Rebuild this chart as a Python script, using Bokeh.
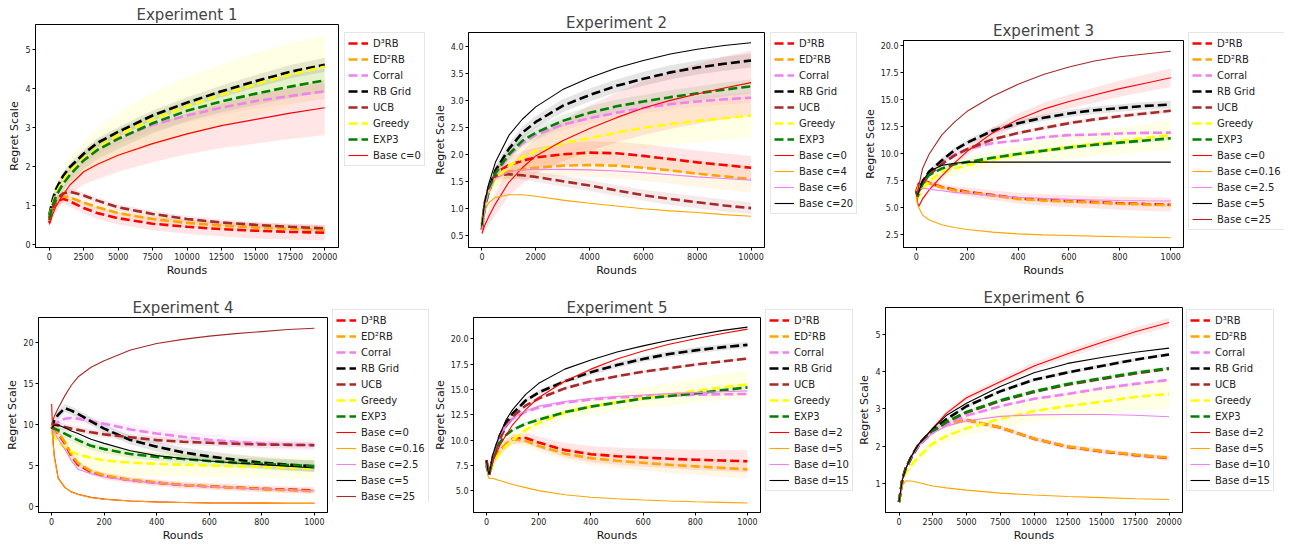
from bokeh.plotting import figure
from bokeh.models import Range1d, FixedTicker, Legend, LegendItem, PrintfTickFormatter
from bokeh.layouts import row, column
from bokeh.embed import file_html
from bokeh.resources import INLINE

# ---------------- data ----------------
ALG_LABELS = ["D³RB", "ED²RB", "Corral", "RB Grid", "UCB", "Greedy", "EXP3"]

# Experiment 1
E1_X = [0, 250, 500, 1000, 1500, 2500, 3500, 5000, 7500, 10000, 12500, 15000, 17500, 20000]
E1_D3RB = [0.55, 0.9, 1.08, 1.17, 1.1, 0.93, 0.8, 0.67, 0.53, 0.45, 0.39, 0.35, 0.32, 0.3]
E1_ED2RB = [0.6, 0.95, 1.12, 1.23, 1.2, 1.07, 0.95, 0.8, 0.65, 0.55, 0.48, 0.43, 0.4, 0.37]
E1_CORRAL = [0.68, 1.0, 1.25, 1.57, 1.8, 2.18, 2.45, 2.72, 3.06, 3.3, 3.5, 3.67, 3.8, 3.92]
E1_RBGRID = [0.75, 1.15, 1.42, 1.75, 1.98, 2.32, 2.6, 2.88, 3.3, 3.63, 3.92, 4.18, 4.42, 4.6]
E1_UCB = [0.62, 0.95, 1.15, 1.3, 1.35, 1.25, 1.12, 0.95, 0.78, 0.65, 0.56, 0.5, 0.45, 0.41]
E1_GREEDY = [0.7, 1.05, 1.32, 1.63, 1.87, 2.2, 2.47, 2.8, 3.2, 3.53, 3.83, 4.1, 4.35, 4.55]
E1_EXP3 = [0.68, 1.0, 1.25, 1.55, 1.78, 2.15, 2.42, 2.7, 3.1, 3.42, 3.66, 3.86, 4.04, 4.2]
E1_BASE_C0 = [0.51, 0.77, 0.98, 1.27, 1.52, 1.86, 2.05, 2.28, 2.58, 2.83, 3.04, 3.2, 3.36, 3.5]
E1_D3RB_SD = [0.05, 0.08, 0.1, 0.12, 0.13, 0.14, 0.15, 0.16, 0.17, 0.18, 0.19, 0.2, 0.2, 0.2]
E1_ED2RB_SD = [0.05, 0.06, 0.07, 0.08, 0.08, 0.08, 0.08, 0.08, 0.08, 0.09, 0.09, 0.1, 0.1, 0.1]
E1_CORRAL_SD = [0.05, 0.08, 0.1, 0.12, 0.12, 0.13, 0.14, 0.15, 0.16, 0.17, 0.18, 0.19, 0.2, 0.2]
E1_RBGRID_SD = [0.05, 0.08, 0.1, 0.1, 0.1, 0.11, 0.12, 0.12, 0.13, 0.14, 0.15, 0.16, 0.17, 0.18]
E1_UCB_SD = [0.05, 0.06, 0.07, 0.08, 0.08, 0.08, 0.08, 0.08, 0.08, 0.08, 0.08, 0.08, 0.08, 0.08]
E1_GREEDY_SD = [0.1, 0.2, 0.25, 0.3, 0.35, 0.42, 0.5, 0.58, 0.68, 0.75, 0.78, 0.8, 0.8, 0.8]
E1_EXP3_SD = [0.08, 0.12, 0.15, 0.18, 0.2, 0.22, 0.24, 0.25, 0.26, 0.27, 0.28, 0.29, 0.3, 0.3]
E1_BASE_C0_SD = [0.05, 0.1, 0.15, 0.2, 0.25, 0.32, 0.38, 0.42, 0.48, 0.52, 0.57, 0.62, 0.66, 0.7]
E1_XTICKS = [0, 2500, 5000, 7500, 10000, 12500, 15000, 17500, 20000]
E1_YTICKS = [0, 1, 2, 3, 4, 5]

# Experiment 2
E2_X = [0, 100, 250, 500, 1000, 1500, 2000, 3000, 4000, 5000, 6000, 7000, 8000, 9000, 10000]
E2_D3RB = [0.6, 1.05, 1.35, 1.65, 1.8, 1.88, 1.94, 2.0, 2.03, 2.02, 1.97, 1.91, 1.85, 1.8, 1.75]
E2_ED2RB = [0.6, 1.0, 1.3, 1.58, 1.68, 1.72, 1.75, 1.79, 1.8, 1.79, 1.75, 1.7, 1.64, 1.59, 1.54]
E2_CORRAL = [0.65, 1.0, 1.3, 1.62, 1.97, 2.2, 2.36, 2.55, 2.67, 2.77, 2.86, 2.93, 2.98, 3.02, 3.05]
E2_RBGRID = [0.7, 1.05, 1.35, 1.7, 2.1, 2.4, 2.6, 2.9, 3.1, 3.27, 3.4, 3.52, 3.61, 3.68, 3.74]
E2_UCB = [0.6, 1.1, 1.4, 1.6, 1.63, 1.61, 1.58, 1.5, 1.42, 1.33, 1.24, 1.17, 1.11, 1.05, 1.0]
E2_GREEDY = [0.7, 1.0, 1.3, 1.55, 1.78, 1.94, 2.06, 2.2, 2.3, 2.4, 2.49, 2.56, 2.62, 2.67, 2.72]
E2_EXP3 = [0.65, 1.0, 1.3, 1.65, 2.0, 2.25, 2.4, 2.62, 2.77, 2.89, 2.98, 3.06, 3.13, 3.2, 3.26]
E2_BASE_C0 = [0.53, 0.68, 0.84, 1.08, 1.48, 1.75, 1.97, 2.25, 2.48, 2.68, 2.86, 3.0, 3.12, 3.23, 3.33]
E2_BASE_C4 = [0.6, 0.95, 1.1, 1.2, 1.25, 1.25, 1.22, 1.15, 1.09, 1.04, 0.99, 0.95, 0.92, 0.88, 0.85]
E2_BASE_C6 = [0.6, 1.0, 1.3, 1.55, 1.67, 1.71, 1.72, 1.72, 1.71, 1.69, 1.66, 1.62, 1.58, 1.55, 1.52]
E2_BASE_C20 = [0.68, 1.1, 1.45, 1.85, 2.35, 2.65, 2.88, 3.2, 3.42, 3.6, 3.74, 3.86, 3.95, 4.02, 4.07]
E2_D3RB_SD = [0.05, 0.08, 0.1, 0.12, 0.15, 0.17, 0.18, 0.2, 0.21, 0.21, 0.22, 0.22, 0.22, 0.22, 0.22]
E2_ED2RB_SD = [0.05, 0.08, 0.1, 0.12, 0.15, 0.17, 0.18, 0.2, 0.22, 0.23, 0.24, 0.24, 0.25, 0.25, 0.25]
E2_CORRAL_SD = [0.05, 0.07, 0.08, 0.1, 0.1, 0.1, 0.1, 0.1, 0.1, 0.1, 0.1, 0.1, 0.1, 0.1, 0.1]
E2_RBGRID_SD = [0.05, 0.07, 0.08, 0.1, 0.1, 0.11, 0.11, 0.12, 0.12, 0.12, 0.13, 0.13, 0.13, 0.13, 0.13]
E2_UCB_SD = [0.05, 0.06, 0.07, 0.08, 0.08, 0.08, 0.09, 0.1, 0.1, 0.1, 0.1, 0.11, 0.11, 0.11, 0.11]
E2_GREEDY_SD = [0.05, 0.1, 0.15, 0.2, 0.25, 0.28, 0.3, 0.32, 0.34, 0.36, 0.37, 0.38, 0.39, 0.4, 0.41]
E2_EXP3_SD = [0.05, 0.07, 0.08, 0.1, 0.1, 0.1, 0.11, 0.11, 0.12, 0.12, 0.12, 0.13, 0.13, 0.13, 0.13]
E2_BASE_C0_SD = [0.05, 0.1, 0.15, 0.2, 0.25, 0.3, 0.33, 0.38, 0.42, 0.46, 0.5, 0.53, 0.56, 0.58, 0.6]
E2_XTICKS = [0, 2000, 4000, 6000, 8000, 10000]
E2_YTICKS = [0.5, 1.0, 1.5, 2.0, 2.5, 3.0, 3.5, 4.0]

# Experiment 3
E3_X = [0, 5, 10, 25, 50, 100, 150, 200, 300, 400, 500, 600, 700, 800, 900, 1000]
E3_D3RB = [6.5, 6.8, 7.2, 7.5, 7.3, 6.9, 6.65, 6.45, 6.15, 5.85, 5.7, 5.6, 5.5, 5.4, 5.32, 5.25]
E3_ED2RB = [6.5, 6.6, 7.0, 7.4, 7.25, 6.85, 6.6, 6.4, 6.1, 5.8, 5.65, 5.55, 5.45, 5.35, 5.28, 5.22]
E3_CORRAL = [6.5, 6.2, 6.5, 7.2, 8.0, 9.2, 9.9, 10.4, 10.95, 11.2, 11.5, 11.7, 11.75, 11.85, 11.9, 11.93]
E3_RBGRID = [6.5, 6.2, 6.6, 7.4, 8.3, 9.35, 10.3, 11.0, 12.1, 12.8, 13.3, 13.7, 14.0, 14.2, 14.4, 14.52]
E3_UCB = [6.5, 6.2, 6.5, 7.2, 8.0, 9.0, 9.8, 10.4, 11.3, 11.9, 12.35, 12.8, 13.15, 13.45, 13.7, 13.95]
E3_GREEDY = [6.0, 5.8, 6.0, 6.7, 7.4, 8.3, 8.6, 8.9, 9.45, 9.9, 10.3, 10.6, 10.9, 11.15, 11.45, 11.7]
E3_EXP3 = [6.5, 6.0, 6.3, 7.2, 8.0, 8.6, 9.0, 9.2, 9.6, 9.95, 10.25, 10.55, 10.8, 11.0, 11.2, 11.4]
E3_BASE_C0 = [6.5, 5.5, 5.1, 5.8, 6.6, 7.9, 9.1, 10.2, 11.9, 13.15, 14.1, 14.8, 15.4, 16.0, 16.5, 17.0]
E3_BASE_C016 = [6.0, 5.3, 5.0, 4.3, 3.87, 3.4, 3.15, 2.96, 2.72, 2.56, 2.47, 2.41, 2.35, 2.3, 2.25, 2.2]
E3_BASE_C2P5 = [6.3, 6.5, 6.7, 6.8, 6.7, 6.55, 6.4, 6.3, 6.1, 5.95, 5.85, 5.75, 5.7, 5.65, 5.62, 5.6]
E3_BASE_C5 = [6.5, 6.2, 6.5, 7.4, 8.3, 8.9, 9.1, 9.2, 9.2, 9.2, 9.2, 9.2, 9.2, 9.2, 9.2, 9.2]
E3_BASE_C25 = [6.5, 6.3, 7.0, 8.6, 9.9, 11.7, 12.9, 13.9, 15.3, 16.4, 17.3, 18.0, 18.55, 18.95, 19.2, 19.45]
E3_D3RB_SD = [0.1, 0.1, 0.15, 0.2, 0.25, 0.3, 0.35, 0.4, 0.45, 0.5, 0.52, 0.55, 0.57, 0.6, 0.62, 0.65]
E3_ED2RB_SD = [0.1, 0.1, 0.1, 0.15, 0.15, 0.2, 0.2, 0.2, 0.2, 0.2, 0.2, 0.2, 0.2, 0.2, 0.2, 0.2]
E3_CORRAL_SD = [0.1, 0.1, 0.1, 0.15, 0.15, 0.15, 0.15, 0.15, 0.15, 0.15, 0.15, 0.15, 0.15, 0.15, 0.15, 0.15]
E3_RBGRID_SD = [0.1, 0.1, 0.15, 0.2, 0.2, 0.25, 0.25, 0.3, 0.3, 0.3, 0.3, 0.35, 0.35, 0.35, 0.35, 0.35]
E3_UCB_SD = [0.1, 0.1, 0.1, 0.15, 0.15, 0.15, 0.15, 0.2, 0.2, 0.2, 0.2, 0.2, 0.2, 0.2, 0.2, 0.2]
E3_GREEDY_SD = [0.2, 0.2, 0.3, 0.4, 0.5, 0.6, 0.65, 0.7, 0.8, 0.9, 1.0, 1.1, 1.15, 1.2, 1.3, 1.35]
E3_EXP3_SD = [0.1, 0.1, 0.1, 0.15, 0.15, 0.15, 0.15, 0.2, 0.2, 0.2, 0.2, 0.2, 0.2, 0.2, 0.2, 0.2]
E3_BASE_C0_SD = [0.1, 0.1, 0.15, 0.2, 0.25, 0.3, 0.35, 0.4, 0.5, 0.55, 0.6, 0.65, 0.7, 0.75, 0.8, 0.85]
E3_XTICKS = [0, 200, 400, 600, 800, 1000]
E3_YTICKS = [2.5, 5.0, 7.5, 10.0, 12.5, 15.0, 17.5, 20.0]

# Experiment 4
E4_X = [0, 5, 10, 25, 50, 75, 100, 150, 200, 300, 400, 500, 600, 700, 800, 900, 1000]
E4_D3RB = [9.5, 9.6, 9.5, 8.9, 7.7, 6.2, 5.1, 4.2, 3.7, 3.2, 2.9, 2.6, 2.45, 2.3, 2.15, 2.05, 1.96]
E4_ED2RB = [9.5, 9.6, 9.5, 9.0, 7.9, 6.4, 5.3, 4.3, 3.8, 3.25, 2.92, 2.62, 2.45, 2.28, 2.12, 1.98, 1.85]
E4_CORRAL = [9.8, 9.9, 10.0, 10.3, 10.7, 10.8, 10.7, 10.4, 10.1, 9.4, 8.9, 8.5, 8.15, 7.9, 7.7, 7.55, 7.5]
E4_RBGRID = [9.5, 10.0, 10.5, 11.2, 12.0, 11.7, 11.3, 10.4, 9.5, 8.1, 7.3, 6.6, 6.1, 5.7, 5.35, 5.1, 4.9]
E4_UCB = [9.8, 10.0, 10.0, 9.9, 9.7, 9.5, 9.35, 9.05, 8.8, 8.45, 8.1, 7.9, 7.78, 7.65, 7.57, 7.52, 7.48]
E4_GREEDY = [9.0, 8.8, 8.5, 7.9, 7.2, 6.7, 6.35, 5.95, 5.6, 5.35, 5.2, 5.1, 5.0, 4.9, 4.82, 4.72, 4.63]
E4_EXP3 = [9.5, 9.6, 9.5, 9.3, 8.9, 8.5, 8.1, 7.4, 7.0, 6.4, 6.05, 5.8, 5.55, 5.35, 5.2, 5.05, 4.93]
E4_BASE_C0 = [12.5, 8.1, 6.2, 3.45, 2.33, 1.78, 1.48, 1.11, 0.89, 0.67, 0.56, 0.48, 0.44, 0.42, 0.4, 0.38, 0.37]
E4_BASE_C016 = [10.0, 7.8, 6.0, 3.4, 2.3, 1.75, 1.45, 1.1, 0.88, 0.66, 0.55, 0.48, 0.44, 0.42, 0.4, 0.38, 0.37]
E4_BASE_C2P5 = [9.3, 9.2, 9.0, 8.2, 7.0, 5.6, 4.55, 4.0, 3.6, 3.15, 2.85, 2.58, 2.4, 2.25, 2.1, 2.0, 1.9]
E4_BASE_C5 = [9.5, 9.8, 9.9, 9.95, 9.6, 9.2, 8.9, 8.2, 7.7, 6.8, 6.2, 5.85, 5.55, 5.3, 5.1, 4.9, 4.7]
E4_BASE_C25 = [10.0, 10.5, 11.0, 12.0, 13.5, 14.8, 15.8, 17.0, 17.8, 19.1, 19.9, 20.4, 20.8, 21.1, 21.35, 21.6, 21.75]
E4_D3RB_SD = [0.6, 0.6, 0.5, 0.5, 0.5, 0.45, 0.4, 0.4, 0.4, 0.4, 0.4, 0.4, 0.4, 0.4, 0.4, 0.4, 0.4]
E4_ED2RB_SD = [0.5, 0.5, 0.4, 0.4, 0.35, 0.3, 0.3, 0.3, 0.3, 0.3, 0.3, 0.3, 0.3, 0.3, 0.3, 0.3, 0.3]
E4_CORRAL_SD = [0.5, 0.5, 0.5, 0.5, 0.5, 0.5, 0.5, 0.5, 0.5, 0.55, 0.6, 0.6, 0.65, 0.65, 0.7, 0.7, 0.7]
E4_RBGRID_SD = [0.8, 0.7, 0.6, 0.6, 0.5, 0.5, 0.5, 0.5, 0.5, 0.55, 0.6, 0.6, 0.65, 0.65, 0.7, 0.7, 0.7]
E4_UCB_SD = [0.5, 0.5, 0.4, 0.4, 0.4, 0.4, 0.4, 0.4, 0.4, 0.4, 0.4, 0.4, 0.4, 0.4, 0.4, 0.4, 0.4]
E4_GREEDY_SD = [0.8, 0.9, 1.0, 1.2, 1.4, 1.5, 1.6, 1.7, 1.7, 1.6, 1.5, 1.45, 1.4, 1.35, 1.3, 1.3, 1.3]
E4_EXP3_SD = [0.5, 0.5, 0.5, 0.5, 0.5, 0.5, 0.5, 0.5, 0.5, 0.5, 0.5, 0.55, 0.6, 0.6, 0.65, 0.65, 0.7]
E4_XTICKS = [0, 200, 400, 600, 800, 1000]
E4_YTICKS = [0, 5, 10, 15, 20]

# Experiment 5
E5_X = [0, 5, 10, 25, 50, 75, 100, 150, 200, 300, 400, 500, 600, 700, 800, 900, 1000]
E5_D3RB = [7.5, 7.0, 6.6, 7.8, 8.9, 9.6, 10.1, 10.2, 9.75, 9.0, 8.6, 8.4, 8.27, 8.15, 8.05, 7.98, 7.9]
E5_ED2RB = [7.5, 7.0, 6.6, 7.8, 8.9, 9.6, 10.1, 9.9, 9.4, 8.65, 8.2, 7.95, 7.75, 7.55, 7.4, 7.25, 7.1]
E5_CORRAL = [7.5, 7.0, 6.6, 8.5, 10.4, 11.4, 12.1, 12.8, 13.2, 13.7, 14.0, 14.2, 14.33, 14.42, 14.48, 14.52, 14.55]
E5_RBGRID = [8.0, 7.0, 6.6, 8.4, 10.4, 11.7, 12.6, 13.9, 14.7, 15.8, 16.7, 17.4, 18.0, 18.5, 18.85, 19.15, 19.4]
E5_UCB = [8.0, 7.0, 6.6, 8.2, 10.0, 11.4, 12.3, 13.4, 14.1, 15.1, 15.8, 16.3, 16.75, 17.1, 17.45, 17.75, 18.05]
E5_GREEDY = [7.5, 7.0, 6.6, 7.7, 8.7, 9.4, 10.0, 11.0, 11.7, 12.7, 13.3, 13.75, 14.15, 14.5, 14.85, 15.2, 15.5]
E5_EXP3 = [7.5, 7.0, 6.6, 8.2, 9.7, 10.5, 11.0, 11.6, 12.0, 12.75, 13.3, 13.7, 14.1, 14.35, 14.6, 14.9, 15.2]
E5_BASE_D2 = [8.0, 7.0, 6.6, 8.0, 9.4, 10.5, 11.5, 13.0, 14.2, 15.8, 17.0, 18.0, 18.8, 19.45, 20.0, 20.5, 20.95]
E5_BASE_D5 = [8.0, 6.5, 6.2, 6.2, 6.0, 5.8, 5.6, 5.3, 5.0, 4.6, 4.35, 4.2, 4.08, 3.98, 3.9, 3.84, 3.78]
E5_BASE_D10 = [7.5, 7.0, 6.6, 8.5, 10.4, 11.4, 12.1, 12.9, 13.35, 13.8, 14.1, 14.3, 14.45, 14.58, 14.68, 14.77, 14.85]
E5_BASE_D15 = [8.0, 7.0, 6.6, 8.6, 10.5, 12.0, 13.0, 14.5, 15.6, 17.0, 17.9, 18.7, 19.3, 19.85, 20.35, 20.8, 21.15]
E5_D3RB_SD = [0.2, 0.2, 0.2, 0.3, 0.4, 0.5, 0.5, 0.5, 0.6, 0.7, 0.8, 0.85, 0.9, 0.95, 1.0, 1.05, 1.1]
E5_ED2RB_SD = [0.2, 0.2, 0.2, 0.3, 0.4, 0.45, 0.5, 0.5, 0.55, 0.6, 0.65, 0.7, 0.75, 0.8, 0.85, 0.9, 0.9]
E5_CORRAL_SD = [0.1, 0.1, 0.1, 0.15, 0.15, 0.15, 0.2, 0.2, 0.2, 0.2, 0.2, 0.2, 0.2, 0.2, 0.2, 0.2, 0.2]
E5_RBGRID_SD = [0.1, 0.1, 0.1, 0.15, 0.2, 0.2, 0.2, 0.25, 0.25, 0.25, 0.3, 0.3, 0.3, 0.3, 0.3, 0.3, 0.3]
E5_UCB_SD = [0.1, 0.1, 0.1, 0.1, 0.15, 0.15, 0.15, 0.15, 0.15, 0.15, 0.15, 0.15, 0.15, 0.15, 0.15, 0.15, 0.15]
E5_GREEDY_SD = [0.2, 0.2, 0.2, 0.3, 0.4, 0.5, 0.55, 0.6, 0.65, 0.7, 0.8, 0.9, 1.0, 1.1, 1.2, 1.3, 1.4]
E5_EXP3_SD = [0.1, 0.1, 0.1, 0.15, 0.15, 0.15, 0.2, 0.2, 0.2, 0.2, 0.2, 0.2, 0.2, 0.2, 0.2, 0.2, 0.2]
E5_XTICKS = [0, 200, 400, 600, 800, 1000]
E5_YTICKS = [5.0, 7.5, 10.0, 12.5, 15.0, 17.5, 20.0]

# Experiment 6
E6_X = [0, 250, 500, 1000, 1500, 2500, 3500, 5000, 7500, 10000, 12500, 15000, 17500, 20000]
E6_D3RB = [0.5, 1.1, 1.4, 1.76, 2.05, 2.4, 2.6, 2.7, 2.5, 2.2, 1.98, 1.86, 1.76, 1.68]
E6_ED2RB = [0.5, 1.1, 1.4, 1.76, 2.05, 2.4, 2.6, 2.7, 2.5, 2.2, 1.99, 1.87, 1.77, 1.69]
E6_CORRAL = [0.5, 1.1, 1.4, 1.75, 2.03, 2.36, 2.58, 2.82, 3.07, 3.27, 3.4, 3.55, 3.67, 3.78]
E6_RBGRID = [0.5, 1.1, 1.4, 1.78, 2.07, 2.44, 2.72, 3.07, 3.47, 3.78, 3.98, 4.15, 4.32, 4.46]
E6_UCB = [0.5, 1.1, 1.4, 1.76, 2.05, 2.4, 2.64, 2.9, 3.21, 3.45, 3.65, 3.8, 3.95, 4.07]
E6_GREEDY = [0.5, 1.07, 1.28, 1.53, 1.73, 2.07, 2.27, 2.48, 2.73, 2.94, 3.08, 3.19, 3.32, 3.4]
E6_EXP3 = [0.5, 1.1, 1.4, 1.76, 2.05, 2.4, 2.65, 2.92, 3.23, 3.47, 3.67, 3.82, 3.97, 4.09]
E6_BASE_D2 = [0.52, 1.1, 1.4, 1.78, 2.07, 2.48, 2.88, 3.3, 3.73, 4.15, 4.48, 4.78, 5.07, 5.32]
E6_BASE_D5 = [0.5, 0.95, 1.07, 1.06, 1.02, 0.93, 0.88, 0.82, 0.74, 0.69, 0.65, 0.62, 0.59, 0.57]
E6_BASE_D10 = [0.5, 1.1, 1.4, 1.75, 2.02, 2.36, 2.53, 2.68, 2.8, 2.84, 2.85, 2.85, 2.83, 2.79]
E6_BASE_D15 = [0.5, 1.1, 1.4, 1.78, 2.07, 2.48, 2.82, 3.15, 3.6, 3.97, 4.22, 4.38, 4.52, 4.63]
E6_D3RB_SD = [0.02, 0.03, 0.04, 0.05, 0.05, 0.06, 0.06, 0.07, 0.07, 0.07, 0.07, 0.07, 0.07, 0.07]
E6_CORRAL_SD = [0.02, 0.03, 0.03, 0.04, 0.04, 0.04, 0.04, 0.05, 0.05, 0.05, 0.05, 0.05, 0.05, 0.05]
E6_RBGRID_SD = [0.02, 0.03, 0.03, 0.04, 0.04, 0.04, 0.04, 0.05, 0.05, 0.05, 0.05, 0.05, 0.05, 0.05]
E6_GREEDY_SD = [0.02, 0.05, 0.08, 0.1, 0.12, 0.15, 0.18, 0.2, 0.25, 0.28, 0.31, 0.34, 0.36, 0.38]
E6_EXP3_SD = [0.02, 0.03, 0.03, 0.04, 0.04, 0.04, 0.04, 0.05, 0.05, 0.05, 0.05, 0.05, 0.05, 0.05]
E6_BASE_D2_SD = [0.02, 0.03, 0.04, 0.05, 0.05, 0.06, 0.07, 0.08, 0.09, 0.1, 0.1, 0.11, 0.11, 0.12]
E6_XTICKS = [0, 2500, 5000, 7500, 10000, 12500, 15000, 17500, 20000]
E6_YTICKS = [1, 2, 3, 4, 5]

# ---------------- styling ----------------
RED, ORANGE, VIOLET, BLACK = "#ff0000", "#ffa500", "#ee82ee", "#000000"
BROWN, YELLOW, GREEN = "#a52a2a", "#ffff00", "#008000"
FONT = "DejaVu Sans"


def draw_series(fig, xs, series, with_bands):
    if with_bands:
        for label, ys, sd, color, dashed in series:
            if sd is not None:
                lo = [y - s for y, s in zip(ys, sd)]
                hi = [y + s for y, s in zip(ys, sd)]
                fig.varea(x=xs, y1=lo, y2=hi, fill_color=color, fill_alpha=0.1)
    rends = []
    for label, ys, sd, color, dashed in series:
        if dashed:
            r = fig.line(xs, ys, line_color=color, line_width=2.6, line_dash="9 4")
        else:
            r = fig.line(xs, ys, line_color=color, line_width=1.1)
        rends.append(r)
    return rends


def make_panel(title, xs, series, xr, yr, xticks, yticks, yfmt, W, H, margin):
    p = figure(width=W, height=H, x_range=Range1d(*xr), y_range=Range1d(*yr),
               output_backend="svg", toolbar_location=None,
               min_border_left=2, min_border_top=2, min_border_right=2,
               min_border_bottom=2, margin=margin)
    p.border_fill_alpha = 0.0
    p.title.text = title
    p.title.text_font = FONT
    p.title.text_font_size = "15px"
    p.title.text_font_style = "normal"
    p.title.align = "center"
    p.title.standoff = 2
    p.xgrid.visible = False
    p.ygrid.visible = False
    p.outline_line_color = "black"
    p.outline_line_alpha = 1.0
    for ax in (p.xaxis[0], p.yaxis[0]):
        ax.axis_line_color = "black"
        ax.major_tick_out = 3
        ax.major_tick_in = 0
        ax.minor_tick_line_color = None
        ax.major_label_text_font = FONT
        ax.major_label_text_font_size = "8px"
        ax.major_label_text_color = "#222222"
        ax.major_label_standoff = 2
        ax.major_label_text_line_height = 1.0
        ax.axis_label_text_font = FONT
        ax.axis_label_text_font_size = "11px"
        ax.axis_label_text_font_style = "normal"
        ax.axis_label_text_color = "#111111"
        ax.axis_label_text_line_height = 1.0
        ax.axis_label_standoff = 1
    p.xaxis.axis_label = "Rounds"
    p.yaxis.axis_label = "Regret Scale"
    p.xaxis.ticker = FixedTicker(ticks=xticks)
    p.yaxis.ticker = FixedTicker(ticks=yticks)
    if yfmt:
        p.yaxis.formatter = PrintfTickFormatter(format=yfmt)
    draw_series(p, xs, series, True)
    return p


def make_legend(xs, series, W, H, left, top):
    # the series are drawn outside this figure's visible ranges; only the legend shows
    lf = figure(width=W, height=H, x_range=Range1d(-3, -2), y_range=Range1d(-3, -2),
                output_backend="svg", toolbar_location=None,
                x_axis_type=None, y_axis_type=None,
                min_border_left=left, min_border_top=top,
                min_border_right=0, min_border_bottom=0)
    lf.outline_line_color = None
    lf.border_fill_alpha = 0.0
    lf.background_fill_alpha = 0.0
    for g in lf.grid:
        g.visible = False
    rends = draw_series(lf, xs, series, False)
    items = [LegendItem(label=s[0], renderers=[r]) for s, r in zip(series, rends)]
    leg = Legend(items=items, location="top_left")
    leg.label_text_font = FONT
    leg.label_text_font_size = "10px"
    leg.label_text_color = "#222222"
    leg.glyph_width = 20
    leg.glyph_height = 14
    leg.label_height = 14
    leg.label_standoff = 5
    leg.spacing = 2
    leg.padding = 3
    leg.margin = 0
    leg.border_line_color = "#cccccc"
    leg.border_line_width = 1
    leg.background_fill_alpha = 0.9
    lf.add_layout(leg)
    return lf


def algs(d3, ed2, corral, grid, ucb, greedy, exp3, sds):
    ys = [d3, ed2, corral, grid, ucb, greedy, exp3]
    cols = [RED, ORANGE, VIOLET, BLACK, BROWN, YELLOW, GREEN]
    return [(ALG_LABELS[i], ys[i], sds[i], cols[i], True) for i in range(7)]


S1 = algs(E1_D3RB, E1_ED2RB, E1_CORRAL, E1_RBGRID, E1_UCB, E1_GREEDY, E1_EXP3,
          [E1_D3RB_SD, E1_ED2RB_SD, E1_CORRAL_SD, E1_RBGRID_SD, E1_UCB_SD, E1_GREEDY_SD, E1_EXP3_SD])
S1 += [("Base c=0", E1_BASE_C0, E1_BASE_C0_SD, RED, False)]

S2 = algs(E2_D3RB, E2_ED2RB, E2_CORRAL, E2_RBGRID, E2_UCB, E2_GREEDY, E2_EXP3,
          [E2_D3RB_SD, E2_ED2RB_SD, E2_CORRAL_SD, E2_RBGRID_SD, E2_UCB_SD, E2_GREEDY_SD, E2_EXP3_SD])
S2 += [("Base c=0", E2_BASE_C0, E2_BASE_C0_SD, RED, False),
       ("Base c=4", E2_BASE_C4, None, ORANGE, False),
       ("Base c=6", E2_BASE_C6, None, VIOLET, False),
       ("Base c=20", E2_BASE_C20, None, BLACK, False)]

S3 = algs(E3_D3RB, E3_ED2RB, E3_CORRAL, E3_RBGRID, E3_UCB, E3_GREEDY, E3_EXP3,
          [E3_D3RB_SD, E3_ED2RB_SD, E3_CORRAL_SD, E3_RBGRID_SD, E3_UCB_SD, E3_GREEDY_SD, E3_EXP3_SD])
S3 += [("Base c=0", E3_BASE_C0, E3_BASE_C0_SD, RED, False),
       ("Base c=0.16", E3_BASE_C016, None, ORANGE, False),
       ("Base c=2.5", E3_BASE_C2P5, None, VIOLET, False),
       ("Base c=5", E3_BASE_C5, None, BLACK, False),
       ("Base c=25", E3_BASE_C25, None, BROWN, False)]

S4 = algs(E4_D3RB, E4_ED2RB, E4_CORRAL, E4_RBGRID, E4_UCB, E4_GREEDY, E4_EXP3,
          [E4_D3RB_SD, E4_ED2RB_SD, E4_CORRAL_SD, E4_RBGRID_SD, E4_UCB_SD, E4_GREEDY_SD, E4_EXP3_SD])
S4 += [("Base c=0", E4_BASE_C0, None, RED, False),
       ("Base c=0.16", E4_BASE_C016, None, ORANGE, False),
       ("Base c=2.5", E4_BASE_C2P5, None, VIOLET, False),
       ("Base c=5", E4_BASE_C5, None, BLACK, False),
       ("Base c=25", E4_BASE_C25, None, BROWN, False)]

S5 = algs(E5_D3RB, E5_ED2RB, E5_CORRAL, E5_RBGRID, E5_UCB, E5_GREEDY, E5_EXP3,
          [E5_D3RB_SD, E5_ED2RB_SD, E5_CORRAL_SD, E5_RBGRID_SD, E5_UCB_SD, E5_GREEDY_SD, E5_EXP3_SD])
S5 += [("Base d=2", E5_BASE_D2, None, RED, False),
       ("Base d=5", E5_BASE_D5, None, ORANGE, False),
       ("Base d=10", E5_BASE_D10, None, VIOLET, False),
       ("Base d=15", E5_BASE_D15, None, BLACK, False)]

S6 = algs(E6_D3RB, E6_ED2RB, E6_CORRAL, E6_RBGRID, E6_UCB, E6_GREEDY, E6_EXP3,
          [E6_D3RB_SD, None, E6_CORRAL_SD, E6_RBGRID_SD, None, E6_GREEDY_SD, E6_EXP3_SD])
S6 += [("Base d=2", E6_BASE_D2, E6_BASE_D2_SD, RED, False),
       ("Base d=5", E6_BASE_D5, None, ORANGE, False),
       ("Base d=10", E6_BASE_D10, None, VIOLET, False),
       ("Base d=15", E6_BASE_D15, None, BLACK, False)]

# row 1
p1 = make_panel("Experiment 1", E1_X, S1, (-1000, 21000), (-0.08, 5.63), E1_XTICKS, E1_YTICKS, None,
                335, 287, (-8, 0, 0, 5))
l1 = make_legend(E1_X, S1, 90, 279, 4, 15)
p2 = make_panel("Experiment 2", E2_X, S2, (-500, 10500), (0.27, 4.26), E2_XTICKS, E2_YTICKS, "%.1f",
                336, 279, (0, 0, 0, 0))
l2 = make_legend(E2_X, S2, 94, 279, 4, 24)
p3 = make_panel("Experiment 3", E3_X, S3, (-50, 1050), (1.3, 20.45), E3_XTICKS, E3_YTICKS, "%.1f",
                325, 271, (8, 0, 0, 0))
l3 = make_legend(E3_X, S3, 99, 279, 3, 32)

# row 2
p4 = make_panel("Experiment 4", E4_X, S4, (-50, 1050), (-0.74, 23.07), E4_XTICKS, E4_YTICKS, None,
                326, 257, (8, 0, -10, 3))
l4 = make_legend(E4_X, S4, 101, 255, 3, 30)
p5 = make_panel("Experiment 5", E5_X, S5, (-50, 1050), (2.84, 22.1), E5_XTICKS, E5_YTICKS, "%.1f",
                332, 257, (8, 0, -10, 0))
l5 = make_legend(E5_X, S5, 93, 255, 3, 28)
p6 = make_panel("Experiment 6", E6_X, S6, (-1000, 21000), (0.22, 5.72), E6_XTICKS, E6_YTICKS, None,
                329, 267, (-2, 0, -10, 0))
l6 = make_legend(E6_X, S6, 100, 255, 2, 21)

layout = column(row(p1, l1, p2, l2, p3, l3), row(p4, l4, p5, l5, p6, l6))
open("out.html", "w").write(file_html(layout, INLINE))
